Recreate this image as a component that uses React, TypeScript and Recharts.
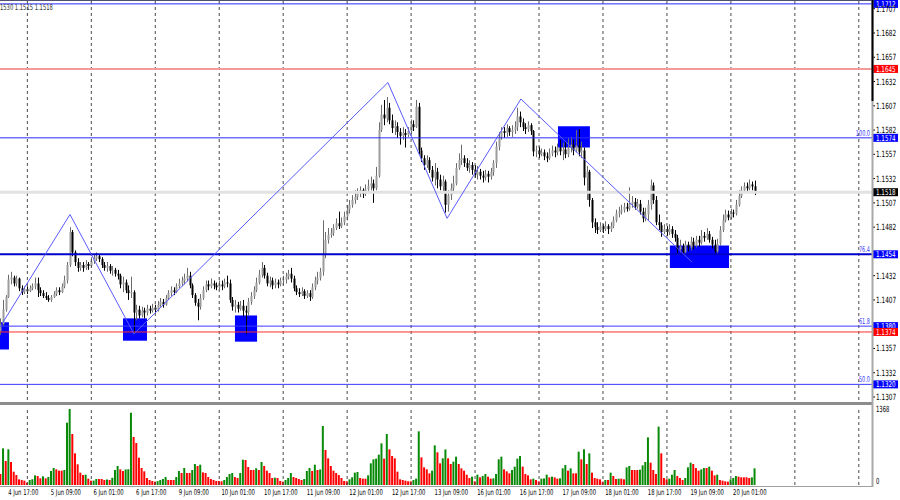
import React from 'react';
import { ComposedChart, Bar, XAxis, YAxis, ReferenceLine, ReferenceArea, Cell } from 'recharts';

// ---------- data (EURUSD H1, 4 Jun 14:00 .. 20 Jun 09:00) ----------
const firstOpen = 1.1375;
const closes = [
  1.1382,1.1397,1.1410,1.1428,1.1430,1.1424,1.1429,1.1419,1.1415,1.1418,
  1.1416,1.1419,1.1421,1.1424,1.1417,1.1414,1.1411,1.1409,1.1407,1.1410,
  1.1413,1.1417,1.1415,1.1421,1.1427,1.1443,1.1477,1.1456,1.1446,1.1440,
  1.1443,1.1440,1.1444,1.1442,1.1447,1.1450,1.1452,1.1449,1.1443,1.1440,
  1.1442,1.1437,1.1438,1.1434,1.1432,1.1423,1.1425,1.1417,1.1414,1.1415,
  1.1394,1.1397,1.1391,1.1396,1.1394,1.1398,1.1396,1.1399,1.1397,1.1402,
  1.1405,1.1402,1.1409,1.1414,1.1417,1.1415,1.1421,1.1424,1.1427,1.1429,
  1.1432,1.1422,1.1412,1.1404,1.1400,1.1409,1.1417,1.1423,1.1421,1.1424,
  1.1422,1.1420,1.1423,1.1421,1.1425,1.1424,1.1407,1.1400,1.1402,1.1398,
  1.1401,1.1396,1.1394,1.1405,1.1411,1.1417,1.1425,1.1433,1.1440,1.1432,
  1.1424,1.1427,1.1422,1.1425,1.1423,1.1427,1.1428,1.1431,1.1434,1.1429,
  1.1419,1.1415,1.1413,1.1416,1.1411,1.1414,1.1410,1.1420,1.1427,1.1430,
  1.1436,1.1454,1.1469,1.1474,1.1476,1.1481,1.1486,1.1483,1.1487,1.1493,
  1.1500,1.1505,1.1510,1.1513,1.1517,1.1520,1.1516,1.1521,1.1524,1.1527,
  1.1522,1.1535,1.1582,1.1598,1.1594,1.1605,1.1592,1.1584,1.1586,1.1580,
  1.1576,1.1579,1.1577,1.1581,1.1588,1.1585,1.1606,1.1561,1.1553,1.1546,
  1.1551,1.1541,1.1533,1.1539,1.1531,1.1524,1.1529,1.1505,1.1515,1.1522,
  1.1527,1.1543,1.1551,1.1553,1.1548,1.1543,1.1546,1.1541,1.1536,1.1539,
  1.1535,1.1533,1.1537,1.1534,1.1539,1.1548,1.1565,1.1575,1.1581,1.1579,
  1.1584,1.1580,1.1582,1.1585,1.1596,1.1590,1.1585,1.1583,1.1587,1.1581,
  1.1560,1.1561,1.1557,1.1559,1.1555,1.1553,1.1558,1.1561,1.1559,1.1564,
  1.1560,1.1562,1.1557,1.1564,1.1567,1.1561,1.1566,1.1559,1.1561,1.1533,
  1.1539,1.1510,1.1487,1.1482,1.1479,1.1483,1.1480,1.1483,1.1480,1.1483,
  1.1489,1.1496,1.1498,1.1500,1.1503,1.1501,1.1506,1.1508,1.1503,1.1506,
  1.1498,1.1491,1.1495,1.1505,1.1525,1.1510,1.1487,1.1484,1.1477,1.1480,
  1.1477,1.1480,1.1475,1.1471,1.1459,1.1462,1.1456,1.1464,1.1461,1.1467,
  1.1463,1.1469,1.1466,1.1473,1.1471,1.1475,1.1469,1.1464,1.1457,1.1465,
  1.1479,1.1489,1.1495,1.1492,1.1497,1.1496,1.1505,1.1514,1.1520,1.1524,
  1.1522,1.1526,1.1524,1.1518,
];
const highs = [
  1.1388,1.1407,1.1412,1.1433,1.1436,1.1432,1.1432,1.1430,1.1422,1.1421,
  1.1421,1.1422,1.1424,1.1430,1.1430,1.1420,1.1417,1.1415,1.1412,1.1412,
  1.1416,1.1420,1.1420,1.1424,1.1432,1.1446,1.1482,1.1479,1.1458,1.1450,
  1.1446,1.1446,1.1448,1.1446,1.1451,1.1454,1.1456,1.1454,1.1451,1.1446,
  1.1446,1.1444,1.1442,1.1440,1.1438,1.1434,1.1431,1.1428,1.1422,1.1431,
  1.1417,1.1402,1.1401,1.1400,1.1399,1.1402,1.1401,1.1403,1.1402,1.1406,
  1.1409,1.1408,1.1412,1.1417,1.1421,1.1420,1.1424,1.1429,1.1431,1.1434,
  1.1440,1.1436,1.1424,1.1414,1.1408,1.1413,1.1421,1.1427,1.1427,1.1429,
  1.1427,1.1425,1.1427,1.1427,1.1429,1.1432,1.1428,1.1410,1.1407,1.1405,
  1.1406,1.1407,1.1401,1.1409,1.1415,1.1421,1.1430,1.1438,1.1446,1.1443,
  1.1435,1.1431,1.1430,1.1429,1.1428,1.1430,1.1432,1.1435,1.1438,1.1440,
  1.1432,1.1422,1.1419,1.1420,1.1418,1.1417,1.1417,1.1424,1.1431,1.1436,
  1.1440,1.1489,1.1477,1.1481,1.1481,1.1485,1.1491,1.1498,1.1492,1.1498,
  1.1505,1.1510,1.1515,1.1520,1.1522,1.1524,1.1522,1.1526,1.1531,1.1534,
  1.1531,1.1544,1.1590,1.1608,1.1613,1.1616,1.1610,1.1598,1.1592,1.1590,
  1.1584,1.1585,1.1583,1.1585,1.1593,1.1592,1.1613,1.1610,1.1564,1.1556,
  1.1556,1.1554,1.1545,1.1548,1.1543,1.1536,1.1535,1.1531,1.1520,1.1527,
  1.1535,1.1548,1.1558,1.1567,1.1556,1.1553,1.1551,1.1549,1.1546,1.1545,
  1.1542,1.1540,1.1541,1.1540,1.1543,1.1551,1.1570,1.1580,1.1585,1.1585,
  1.1588,1.1586,1.1587,1.1591,1.1605,1.1601,1.1594,1.1589,1.1591,1.1589,
  1.1582,1.1566,1.1565,1.1563,1.1562,1.1559,1.1563,1.1566,1.1565,1.1568,
  1.1572,1.1569,1.1570,1.1574,1.1575,1.1572,1.1582,1.1583,1.1570,1.1564,
  1.1545,1.1541,1.1512,1.1491,1.1487,1.1487,1.1485,1.1488,1.1485,1.1487,
  1.1493,1.1500,1.1503,1.1505,1.1507,1.1507,1.1523,1.1514,1.1512,1.1511,
  1.1510,1.1502,1.1502,1.1510,1.1531,1.1528,1.1514,1.1495,1.1487,1.1485,
  1.1483,1.1485,1.1483,1.1479,1.1474,1.1469,1.1465,1.1468,1.1467,1.1472,
  1.1471,1.1473,1.1473,1.1479,1.1477,1.1481,1.1478,1.1472,1.1469,1.1470,
  1.1483,1.1495,1.1500,1.1499,1.1501,1.1500,1.1510,1.1520,1.1524,1.1528,
  1.1528,1.1531,1.1529,1.1530,
];
const lows = [
  1.1371,1.1380,1.1395,1.1409,1.1423,1.1421,1.1421,1.1416,1.1412,1.1413,
  1.1413,1.1415,1.1417,1.1418,1.1410,1.1411,1.1409,1.1407,1.1405,1.1405,
  1.1409,1.1411,1.1412,1.1414,1.1419,1.1424,1.1441,1.1452,1.1442,1.1436,
  1.1437,1.1436,1.1438,1.1438,1.1440,1.1444,1.1447,1.1446,1.1440,1.1437,
  1.1436,1.1434,1.1432,1.1431,1.1428,1.1419,1.1415,1.1414,1.1407,1.1409,
  1.1372,1.1386,1.1388,1.1389,1.1388,1.1391,1.1393,1.1394,1.1394,1.1395,
  1.1400,1.1399,1.1401,1.1407,1.1411,1.1412,1.1414,1.1419,1.1421,1.1423,
  1.1426,1.1419,1.1409,1.1401,1.1386,1.1397,1.1407,1.1415,1.1417,1.1419,
  1.1418,1.1417,1.1418,1.1417,1.1419,1.1420,1.1404,1.1396,1.1394,1.1394,
  1.1396,1.1390,1.1372,1.1391,1.1402,1.1408,1.1415,1.1423,1.1430,1.1429,
  1.1421,1.1420,1.1418,1.1419,1.1419,1.1421,1.1422,1.1424,1.1428,1.1425,
  1.1416,1.1412,1.1410,1.1411,1.1408,1.1409,1.1406,1.1408,1.1417,1.1423,
  1.1427,1.1432,1.1450,1.1465,1.1471,1.1473,1.1479,1.1480,1.1481,1.1484,
  1.1489,1.1496,1.1502,1.1506,1.1510,1.1513,1.1512,1.1514,1.1517,1.1520,
  1.1507,1.1520,1.1533,1.1580,1.1587,1.1590,1.1588,1.1579,1.1577,1.1574,
  1.1567,1.1572,1.1564,1.1575,1.1578,1.1581,1.1584,1.1557,1.1549,1.1541,
  1.1543,1.1538,1.1529,1.1525,1.1522,1.1520,1.1518,1.1497,1.1498,1.1510,
  1.1519,1.1525,1.1541,1.1546,1.1544,1.1540,1.1538,1.1536,1.1533,1.1531,
  1.1531,1.1528,1.1530,1.1528,1.1531,1.1535,1.1543,1.1561,1.1572,1.1574,
  1.1575,1.1576,1.1575,1.1578,1.1581,1.1585,1.1581,1.1578,1.1580,1.1577,
  1.1555,1.1554,1.1553,1.1555,1.1551,1.1549,1.1551,1.1555,1.1554,1.1556,
  1.1556,1.1551,1.1553,1.1554,1.1559,1.1556,1.1559,1.1555,1.1553,1.1525,
  1.1510,1.1503,1.1481,1.1476,1.1475,1.1477,1.1476,1.1478,1.1475,1.1477,
  1.1481,1.1487,1.1492,1.1495,1.1497,1.1498,1.1499,1.1502,1.1500,1.1501,
  1.1495,1.1487,1.1488,1.1489,1.1500,1.1506,1.1484,1.1479,1.1472,1.1475,
  1.1473,1.1474,1.1471,1.1467,1.1454,1.1456,1.1453,1.1454,1.1457,1.1458,
  1.1459,1.1461,1.1462,1.1464,1.1467,1.1469,1.1466,1.1460,1.1455,1.1454,
  1.1463,1.1477,1.1487,1.1489,1.1490,1.1492,1.1494,1.1503,1.1512,1.1518,
  1.1519,1.1520,1.1520,1.1515,
];
const volumes = [
  198,660,432,642,414,240,180,102,90,78,
  42,90,102,174,162,120,156,120,144,252,
  306,282,258,258,270,1122,1368,918,570,372,
  222,180,186,114,78,80,108,108,108,90,
  100,90,130,270,342,282,252,280,285,1300,
  864,756,491,306,246,126,90,72,60,70,
  90,108,144,90,90,90,144,252,216,306,
  216,216,270,378,342,366,228,216,144,108,
  90,72,72,66,90,144,198,216,144,126,
  216,456,450,324,270,270,300,270,414,342,
  258,216,126,132,126,72,60,90,126,216,
  144,126,108,90,108,252,306,252,366,270,
  280,1062,630,480,342,258,216,180,126,72,
  66,102,138,222,234,126,114,114,174,390,
  462,474,546,750,474,918,642,522,480,240,
  102,90,78,66,66,90,114,966,498,318,
  282,210,258,714,588,390,480,640,480,378,
  420,510,378,300,258,186,126,150,66,186,
  138,162,198,150,114,120,198,462,510,282,
  246,210,270,330,474,522,330,198,174,102,
  114,90,66,114,118,186,138,150,138,114,
  120,300,360,258,300,210,210,600,462,642,
  378,570,222,126,114,102,60,90,90,222,
  162,108,114,114,102,318,342,270,270,270,
  276,354,414,858,402,270,198,1050,570,126,
  102,114,186,270,162,126,90,126,318,402,
  378,306,258,282,306,306,330,258,174,186,
  90,78,66,60,102,126,162,150,138,138,
  138,126,138,300,
];
const volumeMax = 1368;

const dayStarts = [10, 34, 58, 82, 106, 130, 154, 178, 202, 226, 250, 274, 298, 322];
const labelBars = [3, 19, 35, 51, 67, 83, 99, 115, 131, 147, 163, 179, 195, 211, 227, 243, 259, 275];
const timeLabels = [
  '4 Jun 17:00', '5 Jun 09:00', '6 Jun 01:00', '6 Jun 17:00', '9 Jun 09:00', '10 Jun 01:00',
  '10 Jun 17:00', '11 Jun 09:00', '12 Jun 01:00', '12 Jun 17:00', '13 Jun 09:00', '16 Jun 01:00',
  '16 Jun 17:00', '17 Jun 09:00', '18 Jun 01:00', '18 Jun 17:00', '19 Jun 09:00', '20 Jun 01:00',
];
// ticks hidden behind the 1.1454 and 1.1380 price boxes are left out
const priceTicks = [
  1.1307, 1.1332, 1.1357, 1.1407, 1.1432, 1.1482, 1.1507,
  1.1532, 1.1557, 1.1582, 1.1607, 1.1632, 1.1657, 1.1682, 1.1707,
];
const levelPrices = [1.1712, 1.1645, 1.1574, 1.1518, 1.1454, 1.1380, 1.1374, 1.1320];
const fibTexts = ['', '', '100.0', '', '76.4', '61.8', '', '50.0'];
const zigzagBars = [0.86, 26, 50, 145.3, 167.5, 195.2, 259.4];
const zigzagPrices = [1.1384, 1.1495, 1.1372, 1.1631, 1.1491, 1.1614, 1.1446];
const boxBars = [[-0.26, 3.1], [45.9, 54.9], [87.9, 96.2], [209.1, 221.1], [251.1, 273.3]];
const boxPrices = [[1.1356, 1.1384], [1.1365, 1.1388], [1.1364, 1.1391], [1.1564, 1.1586], [1.1440, 1.1463]];
const headerText = '1530 1.1515 1.1518';

// ---------- styles ----------
const FONT = 'DejaVu Sans, Verdana, sans-serif';
const SX = 0.66; // horizontal squeeze of the small platform font
const BAR_DOMAIN: [number, number] = [-0.263, 326.95];
const PRICE_DOMAIN: [number, number] = [1.13039, 1.1716];
const levelLook = [
  { stroke: '#2a2aff', w: 1, box: '#0000ff' },
  { stroke: '#f39a9a', w: 2, box: '#ff0000' },
  { stroke: '#2a2aff', w: 1, box: '#0000ff' },
  { stroke: '#e2e2e2', w: 3, box: '#000000' },
  { stroke: '#0000cc', w: 2, box: '#0000ff' },
  { stroke: '#3a3aff', w: 1, box: '#0000ff' },
  { stroke: '#ff3030', w: 1, box: '#ff0000' },
  { stroke: '#3a3aff', w: 1, box: '#0000ff' },
];

const rows = closes.map((c, i) => ({
  i,
  o: i === 0 ? firstOpen : closes[i - 1],
  h: highs[i],
  l: lows[i],
  c,
  range: [lows[i], highs[i]],
  v: volumes[i],
}));

const SText = (p: any) => {
  const { x, y, sx = SX, size = 8, fill = '#000', anchor = 'start', children } = p;
  return (
    <text transform={`translate(${x} ${y}) scale(${sx} 1)`} x={0} y={0} dy="0.35em"
      fontSize={size} fontFamily={FONT} fill={fill} textAnchor={anchor}>{children}</text>
  );
};

const Candle = (props: any) => {
  const { x, y, width, height, payload } = props;
  if (!payload || height == null) return null;
  const { o, h, l, c } = payload;
  const cx = Math.round(x + width / 2);
  const k = h - l > 0 ? height / (h - l) : 0;
  const yo = y + (h - o) * k;
  const yc = y + (h - c) * k;
  const bull = c >= o;
  const top = Math.min(yo, yc);
  const bh = Math.max(Math.abs(yo - yc), 1);
  return (
    <g>
      <line x1={cx + 0.5} x2={cx + 0.5} y1={y} y2={y + height} stroke={bull ? '#6c6c6c' : '#000'} strokeWidth={1} />
      <rect x={cx - 0.5} y={top} width={2} height={bh} fill={bull ? '#9c9c9c' : '#000'} />
    </g>
  );
};

const PriceTick = (props: any) => {
  const { x, y, payload } = props;
  return (
    <g>
      <line x1={x} x2={x + 3} y1={y} y2={y} stroke="#000" strokeWidth={1} />
      <SText x={x + 4} y={y} size={8.5} sx={0.68}>{payload.value.toFixed(4)}</SText>
    </g>
  );
};

const VolTick = (props: any) => {
  const { x, y, payload } = props;
  const shift = payload.value === 0 ? -4 : 0;
  return <SText x={x + 4} y={y + shift} size={8.5} sx={0.62}>{String(payload.value)}</SText>;
};

const DateTick = (props: any) => {
  const { x, y, payload } = props;
  const idx = labelBars.indexOf(payload.value);
  const s = idx >= 0 ? timeLabels[idx] : '';
  return <SText x={x - 0.5} y={y + 7} size={8} sx={0.66}>{s}</SText>;
};

const makeLevelLabel = (k: number) => (props: any) => {
  const vb = props.viewBox || {};
  const yy = vb.y;
  const xr = (vb.x || 0) + (vb.width || 0);
  const fib = fibTexts[k];
  return (
    <g>
      {fib ? (
        <SText x={xr - 2} y={yy - 5} size={8} sx={0.62} fill="#3434ff" anchor="end">{fib}</SText>
      ) : null}
      <rect x={xr + 1} y={yy - 4} width={25} height={8} fill={levelLook[k].box} />
      <SText x={xr + 4} y={yy} size={8} sx={0.7} fill="#fff">{levelPrices[k].toFixed(4)}</SText>
    </g>
  );
};

export default function App() {
  return (
    <div style={{ position: 'absolute', left: 0, top: 0, width: 900, height: 500, background: '#fff', overflow: 'hidden' }}>
      <div style={{ position: 'absolute', left: 0, top: 0 }}>
        <ComposedChart width={900} height={402} data={rows} margin={{ top: 0, right: 0, bottom: 2, left: 0 }}>
          <XAxis dataKey="i" type="number" domain={BAR_DOMAIN} allowDataOverflow hide />
          <YAxis orientation="right" type="number" domain={PRICE_DOMAIN} allowDataOverflow ticks={priceTicks}
            interval={0} width={28} axisLine={false} tickLine={false} tickSize={0} tickMargin={0} tick={<PriceTick />} />
          {dayStarts.map((d) => (
            <ReferenceLine key={'g' + d} x={d} stroke="#4a4a4a" strokeDasharray="3 3" strokeWidth={1} ifOverflow="visible" />
          ))}
          {levelPrices.map((p, k) => (
            <ReferenceLine key={'l' + k} y={p} stroke={levelLook[k].stroke} strokeWidth={levelLook[k].w}
              ifOverflow="visible" label={makeLevelLabel(k)} />
          ))}
          {boxBars.map((b, k) => (
            <ReferenceArea key={'b' + k} x1={b[0]} x2={b[1]} y1={boxPrices[k][0]} y2={boxPrices[k][1]}
              fill="#0000ff" fillOpacity={1} stroke="none" ifOverflow="hidden" />
          ))}
          {zigzagBars.slice(1).map((b, k) => (
            <ReferenceLine key={'z' + k} ifOverflow="visible" stroke="#5a5aff" strokeWidth={1}
              segment={[{ x: zigzagBars[k], y: zigzagPrices[k] }, { x: b, y: zigzagPrices[k + 1] }]} />
          ))}
          <Bar dataKey="range" barSize={2} isAnimationActive={false} shape={<Candle />} />
        </ComposedChart>
      </div>
      <div style={{ position: 'absolute', left: 0, top: 405 }}>
        <ComposedChart width={900} height={95} data={rows} margin={{ top: 4, right: 0, bottom: 0, left: 0 }}>
          <XAxis dataKey="i" type="number" domain={BAR_DOMAIN} allowDataOverflow ticks={labelBars} interval={0}
            height={15} axisLine={false} tickLine={false} tickSize={0} tickMargin={0} tick={<DateTick />} />
          <YAxis orientation="right" type="number" domain={[0, volumeMax]} ticks={[0, volumeMax]} interval={0}
            width={28} axisLine={false} tickLine={false} tickSize={0} tickMargin={0} tick={<VolTick />} />
          {dayStarts.map((d) => (
            <ReferenceLine key={'vg' + d} x={d} stroke="#4a4a4a" strokeDasharray="3 3" strokeWidth={1} ifOverflow="visible" />
          ))}
          <Bar dataKey="v" barSize={2} isAnimationActive={false}>
            {rows.map((r, i) => (
              <Cell key={i} fill={i > 0 && volumes[i] > volumes[i - 1] ? '#088a08' : '#ff0000'} />
            ))}
          </Bar>
        </ComposedChart>
      </div>
      <svg width={900} height={500} style={{ position: 'absolute', left: 0, top: 0, pointerEvents: 'none' }}>
        <line x1={0} x2={872} y1={0.5} y2={0.5} stroke="#505070" strokeWidth={1} />
        <rect x={0} y={402} width={873} height={3} fill="#8c8c8c" />
        <line x1={0} x2={873} y1={486.5} y2={486.5} stroke="#a0a0a0" strokeWidth={1} />
        <line x1={872.5} x2={872.5} y1={0} y2={487} stroke="#a8a8a8" strokeWidth={2} />
        <line x1={872.5} x2={872.5} y1={0} y2={101} stroke="#000" strokeWidth={2} />
        <SText x={0} y={7} size={8} sx={0.65} fill="#333">{headerText}</SText>
      </svg>
    </div>
  );
}
